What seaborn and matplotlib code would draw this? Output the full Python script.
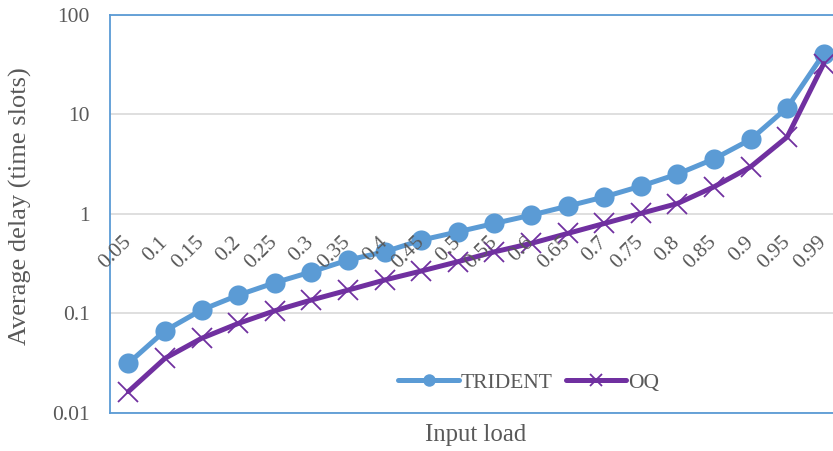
import matplotlib
matplotlib.use("Agg")
import matplotlib.pyplot as plt
import matplotlib.transforms as mtransforms
from matplotlib.ticker import FixedLocator, NullLocator
import pandas as pd
import seaborn as sns

# Input load levels (categories on the x axis)
loads = ["0.05", "0.1", "0.15", "0.2", "0.25", "0.3", "0.35", "0.4", "0.45", "0.5",
         "0.55", "0.6", "0.65", "0.7", "0.75", "0.8", "0.85", "0.9", "0.95", "0.99"]

# Average delay in time slots
trident = [0.0314, 0.0667, 0.108, 0.152, 0.203, 0.261, 0.343, 0.415, 0.544, 0.659,
           0.801, 0.97, 1.195, 1.48, 1.90, 2.51, 3.57, 5.60, 11.7, 40.9]
oq = [0.0163, 0.0352, 0.056, 0.079, 0.106, 0.136, 0.171, 0.216, 0.266, 0.33,
      0.415, 0.504, 0.635, 0.80, 1.01, 1.27, 1.87, 2.97, 5.94, 32.5]

y_ticks = [0.01, 0.1, 1, 10, 100]
y_tick_labels = ["0.01", "0.1", "1", "10", "100"]

sns.set_style("white")
plt.rcParams["font.family"] = ["Liberation Serif", "DejaVu Serif"]

TXT = "#595959"
BLUE = "#5B9BD5"
PURPLE = "#7030A0"

df = pd.DataFrame({"pos": range(len(loads)), "load": loads,
                   "TRIDENT": trident, "OQ": oq})

fig = plt.figure(figsize=(8.33, 4.51), dpi=100)
ax = fig.add_axes([0.1321, 0.0849, 0.8788, 0.8818])

sns.lineplot(data=df, x="pos", y="TRIDENT", ax=ax, color=BLUE, linewidth=3.6,
             marker="o", markersize=14.5, markeredgewidth=0,
             markerfacecolor=BLUE, label="TRIDENT", zorder=3)
sns.lineplot(data=df, x="pos", y="OQ", ax=ax, color=PURPLE, linewidth=3.6,
             marker="x", markersize=15, markeredgewidth=1.3,
             markeredgecolor=PURPLE, label="OQ", zorder=4)

ax.set_yscale("log")
ax.set_ylim(0.01, 100)
ax.set_xlim(-0.5, len(loads) - 0.5)

ax.yaxis.set_major_locator(FixedLocator(y_ticks))
ax.yaxis.set_minor_locator(NullLocator())
ax.set_yticklabels(y_tick_labels)
ax.tick_params(axis="y", length=0, pad=14.4, labelsize=15.5, labelcolor=TXT)

ax.set_xticks(list(df["pos"]))
ax.set_xticklabels([])
ax.tick_params(axis="x", length=0)

ax.yaxis.grid(True, color="#D9D9D9", linewidth=1.2)
ax.xaxis.grid(False)
ax.set_axisbelow(True)

for sp in ax.spines.values():
    sp.set_visible(True)
    sp.set_color(BLUE)
    sp.set_linewidth(1.3)

# Category labels sit just under the y = 1 line, rotated 45 degrees
offset = mtransforms.ScaledTranslation(0, -18.5 / 72, fig.dpi_scale_trans)
for p, lab in zip(df["pos"], df["load"]):
    ax.text(p, 1, lab, rotation=45, rotation_mode="anchor", ha="right",
            va="center", fontsize=15.5, color=TXT,
            transform=ax.transData + offset, zorder=5)

ax.set_xlabel("Input load", fontsize=17.8, color=TXT)
ax.xaxis.set_label_coords(0.5, -0.028)
ax.set_ylabel("Average delay (time slots)", fontsize=19, color=TXT)
ax.yaxis.set_label_coords(-0.106, 0.52)

ax.legend(loc="center", bbox_to_anchor=(0.572, 0.075), ncol=2, frameon=False,
          fontsize=15.5, handlelength=2.8, columnspacing=0.6,
          handletextpad=0.1, markerscale=0.62, labelcolor=TXT)

fig.savefig("out.png", dpi=100)
